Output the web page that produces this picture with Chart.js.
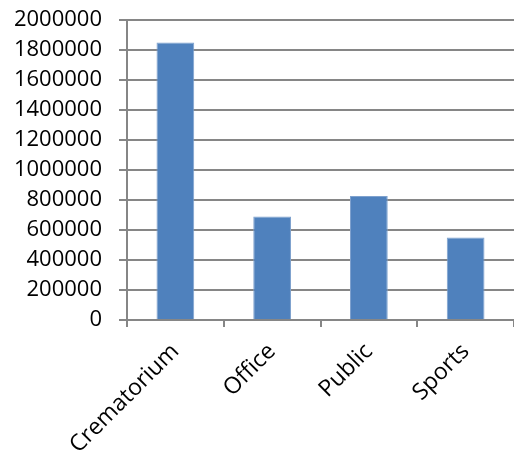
<!DOCTYPE html>
<html>
<head>
<meta charset="utf-8">
<script src="https://cdn.jsdelivr.net/npm/chart.js@4/dist/chart.umd.min.js"></script>
<style>
html,body{margin:0;padding:0;background:#fff;}
#wrap{width:514px;height:455px;position:relative;}
</style>
</head>
<body>
<div id="wrap"><canvas id="c" width="514" height="455"></canvas></div>
<script>
const categories = ["Crematorium", "Office", "Public", "Sports"];
const values = [1850000, 690000, 826000, 550000];
const yTicks = [0, 200000, 400000, 600000, 800000, 1000000, 1200000, 1400000, 1600000, 1800000, 2000000];

const gridColor = "#868686";
const fontFamily = "'Open Sans', 'Liberation Sans', sans-serif";

new Chart(document.getElementById("c"), {
  type: "bar",
  data: {
    labels: categories,
    datasets: [{
      data: values,
      backgroundColor: "#4F81BD",
      borderColor: "#7EA1CE",
      borderWidth: 1,
      barPercentage: 0.39,
      categoryPercentage: 1.0
    }]
  },
  options: {
    responsive: false,
    animation: false,
    events: [],
    layout: { padding: { top: 20, right: -1, left: 0, bottom: 0 } },
    plugins: { legend: { display: false }, tooltip: { enabled: false } },
    scales: {
      x: {
        offset: true,
        grid: { display: true, drawOnChartArea: false, drawTicks: true, tickLength: 7, color: gridColor, lineWidth: 2, offset: true },
        border: { display: true, color: gridColor, width: 2 },
        ticks: { color: "#000", font: { family: fontFamily, size: 23 }, minRotation: 45, maxRotation: 45, padding: 11, autoSkip: false },
        afterFit: (s) => { s.height = 135; s.paddingLeft = 0; s.paddingRight = 0; }
      },
      y: {
        min: 0, max: 2000000,
        afterBuildTicks: (s) => { s.ticks = yTicks.map(v => ({ value: v })); },
        grid: { color: gridColor, lineWidth: 2, drawTicks: true, tickLength: 8 },
        border: { display: true, color: gridColor, width: 2 },
        ticks: { color: "#000", font: { family: fontFamily, size: 22 }, padding: 17, autoSkip: false, callback: (v) => String(v) },
        afterFit: (s) => { s.width = 127; s.paddingTop = 0; s.paddingBottom = 0; }
      }
    }
  }
});
</script>
</body>
</html>
